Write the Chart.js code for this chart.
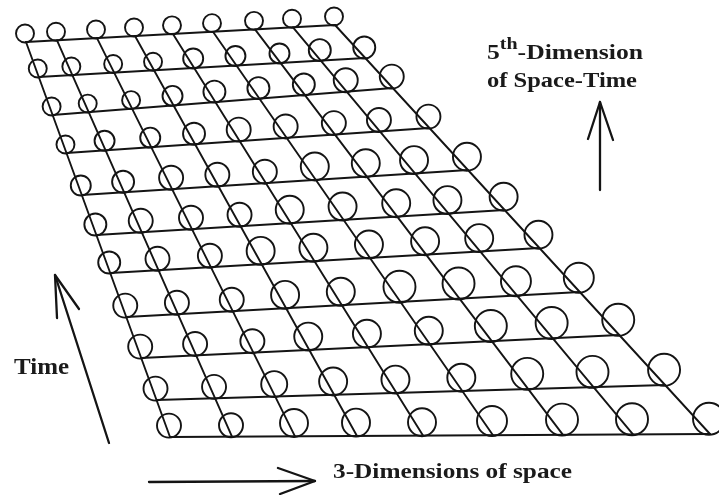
<!DOCTYPE html>
<html>
<head>
<meta charset="utf-8">
<script src="https://cdn.jsdelivr.net/npm/chart.js@4.4.1/dist/chart.umd.min.js"></script>
<style>
  html, body { margin: 0; padding: 0; background: #fff; }
  #wrap { width: 719px; height: 495px; }
</style>
</head>
<body>
<div id="wrap"><canvas id="grid" width="719" height="495"></canvas></div>
<script>
// grid lines (x where each column meets the top / bottom row,
// y where each row meets the left / right edge)
const colTopX    = [26, 57, 97, 135, 173, 213, 255, 293, 335];
const colBottomX = [170, 232, 295, 357, 423, 493, 563, 633, 710];
const rowLeftY   = [42, 77, 115, 153, 195, 235, 273, 317, 358, 400, 437];
const rowRightY  = [25, 58, 88, 128, 170, 210, 248, 292, 335, 385, 434];

// circle radius on every node, top row first
const radii = [
  [9, 9, 9, 9, 9, 9, 9, 9, 9],
  [9, 9, 9, 9, 10, 10, 10, 11, 11],
  [9, 9, 9, 10, 11, 11, 11, 12, 12],
  [9, 10, 10, 11, 12, 12, 12, 12, 12],
  [10, 11, 12, 12, 12, 14, 14, 14, 14],
  [11, 12, 12, 12, 14, 14, 14, 14, 14],
  [11, 12, 12, 14, 14, 14, 14, 14, 14],
  [12, 12, 12, 14, 14, 16, 16, 15, 15],
  [12, 12, 12, 14, 14, 14, 16, 16, 16],
  [12, 12, 13, 14, 14, 14, 16, 16, 16],
  [12, 12, 14, 14, 14, 15, 16, 16, 16]
];

// arrows
const timeShaft  = [{x: 109, y: 443}, {x: 55, y: 275}];
const timeHead   = [{x: 57, y: 318}, {x: 55, y: 275}, {x: 79, y: 309}];
const spaceShaft = [{x: 149, y: 482}, {x: 315, y: 481}];
const spaceHead  = [{x: 278, y: 468}, {x: 315, y: 481}, {x: 280, y: 494}];
const fifthShaft = [{x: 600, y: 190}, {x: 600, y: 102}];
const fifthHead  = [{x: 588, y: 139}, {x: 600, y: 102}, {x: 613, y: 140}];

// texts
const fifthLine1 = ['5', 'th', '-Dimension'];
const fifthLine2 = 'of Space-Time';
const timeLabel  = 'Time';
const spaceLabel = '3-Dimensions of space';

const INK = '#141414';

function lerp(a, b, t) { return a + (b - a) * t; }

// x on the left / right edge for a given y
function edgeX(topX, bottomX, topY, bottomY, y) {
    return lerp(topX, bottomX, (y - topY) / (bottomY - topY));
}

const rows = rowLeftY.map((ly, i) => {
    const ry = rowRightY[i];
    const lx = edgeX(colTopX[0], colBottomX[0], rowLeftY[0], rowLeftY[10], ly);
    const rx = edgeX(colTopX[8], colBottomX[8], rowRightY[0], rowRightY[10], ry);
    return [{x: lx, y: ly}, {x: rx, y: ry}];
});

function yOnRow(row, x) {
    const a = row[0], b = row[1];
    return lerp(a.y, b.y, (x - a.x) / (b.x - a.x));
}

const cols = colTopX.map((tx, j) => {
    const bx = colBottomX[j];
    return [{x: tx, y: yOnRow(rows[0], tx)}, {x: bx, y: yOnRow(rows[10], bx)}];
});

function cross(p1, p2, p3, p4) {
    const d = (p1.x - p2.x) * (p3.y - p4.y) - (p1.y - p2.y) * (p3.x - p4.x);
    const t = ((p1.x - p3.x) * (p3.y - p4.y) - (p1.y - p3.y) * (p3.x - p4.x)) / d;
    return {x: p1.x + t * (p2.x - p1.x), y: p1.y + t * (p2.y - p1.y)};
}

// circles sit on the nodes
const nodes = [];
radii.forEach((line, i) => {
    line.forEach((r, j) => {
        const p = cross(rows[i][0], rows[i][1], cols[j][0], cols[j][1]);
        nodes.push({x: p.x - 1, y: p.y - r * 0.95, r: r});
    });
});

function stroke(data, width) {
    return {
        type: 'scatter',
        data: data,
        showLine: true,
        pointRadius: 0,
        borderColor: INK,
        borderWidth: width,
        borderCapStyle: 'round',
        borderJoinStyle: 'round',
        tension: 0,
        clip: false
    };
}

const datasets = [];
rows.forEach(r => datasets.push(stroke(r, 1.9)));
cols.forEach(c => datasets.push(stroke(c, 1.9)));
datasets.push({
    type: 'bubble',
    data: nodes,
    backgroundColor: 'rgba(0,0,0,0)',
    borderColor: INK,
    borderWidth: 1.9,
    clip: false
});
[timeShaft, timeHead, spaceShaft, spaceHead, fifthShaft, fifthHead].forEach(a => datasets.push(stroke(a, 2.3)));

// draw a run of text pieces squeezed to a given width
function fitText(ctx, pieces, x, y, width, size) {
    let total = 0;
    pieces.forEach(p => {
        ctx.font = 'bold ' + (size * (p.sup ? 0.78 : 1)) + 'px "Liberation Serif", serif';
        total += ctx.measureText(p.t).width;
    });
    ctx.save();
    ctx.translate(x, y);
    ctx.scale(width / total, 1);
    let cx = 0;
    pieces.forEach(p => {
        ctx.font = 'bold ' + (size * (p.sup ? 0.78 : 1)) + 'px "Liberation Serif", serif';
        ctx.fillText(p.t, cx, p.sup ? -size * 0.45 : 0);
        cx += ctx.measureText(p.t).width;
    });
    ctx.restore();
}

const labelPlugin = {
    id: 'labels',
    afterDatasetsDraw(chart) {
        const ctx = chart.ctx;
        const sx = chart.scales.x, sy = chart.scales.y;
        ctx.save();
        ctx.fillStyle = '#1a1a1a';
        ctx.textBaseline = 'alphabetic';
        ctx.textAlign = 'left';
        fitText(ctx, [{t: fifthLine1[0]}, {t: fifthLine1[1], sup: true}, {t: fifthLine1[2]}],
            sx.getPixelForValue(487), sy.getPixelForValue(59), 156, 22);
        fitText(ctx, [{t: fifthLine2}], sx.getPixelForValue(487), sy.getPixelForValue(87), 150, 22);
        fitText(ctx, [{t: timeLabel}], sx.getPixelForValue(14), sy.getPixelForValue(374), 55, 24);
        fitText(ctx, [{t: spaceLabel}], sx.getPixelForValue(333), sy.getPixelForValue(478), 239, 22);
        ctx.restore();
    }
};

new Chart(document.getElementById('grid').getContext('2d'), {
    type: 'scatter',
    data: { datasets: datasets },
    options: {
        responsive: false,
        animation: false,
        events: [],
        layout: { padding: 0, autoPadding: false },
        plugins: {
            legend: { display: false },
            tooltip: { enabled: false }
        },
        scales: {
            x: { type: 'linear', min: 0, max: 719, display: false },
            y: { type: 'linear', min: 0, max: 495, reverse: true, display: false }
        }
    },
    plugins: [labelPlugin]
});
</script>
</body>
</html>
